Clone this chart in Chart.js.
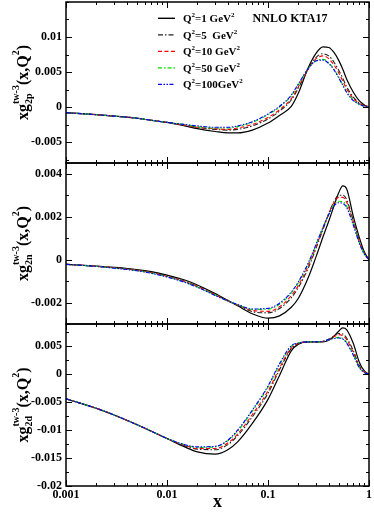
<!DOCTYPE html>
<html><head><meta charset="utf-8">
<script src="https://cdn.jsdelivr.net/npm/chart.js@4.4.1/dist/chart.umd.min.js"></script>
<style>
html,body{margin:0;padding:0;background:#fff;}
#wrap{position:relative;width:374px;height:513px;overflow:hidden;background:#fff;}
canvas{position:absolute;left:0;}
</style></head><body>
<div id="wrap">
<canvas id="c1" width="374" height="185" style="top:-10px"></canvas>
<canvas id="c2" width="374" height="185" style="top:151px"></canvas>
<canvas id="c3" width="374" height="201" style="top:312px"></canvas>
</div>
<script>
// ---------- data ----------
const xValues = [0.001,0.002,0.003,0.005,0.007,0.01,0.015,0.02,0.03,0.04,0.05,0.07,0.1,0.13,0.17,0.2,0.25,0.3,0.35,0.4,0.45,0.5,0.55,0.6,0.7,0.8,0.9,1];
const seriesNames = ['Q2=1 GeV2','Q2=5 GeV2','Q2=10 GeV2','Q2=50 GeV2','Q2=100GeV2'];
const legendLabels = ['1 GeV','5  GeV','10 GeV','50 GeV','100GeV'];

const g2p_Q1   = [-0.0008,-0.0011,-0.0013,-0.0016,-0.0019,-0.0022,-0.0027,-0.0031,-0.0035,-0.0037,-0.0037,-0.0033,-0.0023,-0.0012,0.0001,0.0020,0.0056,0.0077,0.0086,0.0085,0.0078,0.0067,0.0054,0.0040,0.0021,0.0009,0.0003,0];
const g2p_Q5   = [-0.0008,-0.0011,-0.0013,-0.0016,-0.0019,-0.0022,-0.0026,-0.0029,-0.0032,-0.0033,-0.0032,-0.0027,-0.0017,-0.0006,0.0010,0.0027,0.0054,0.0071,0.0076,0.0073,0.0064,0.0053,0.0041,0.0029,0.0014,0.0006,0.0002,0];
const g2p_Q10  = [-0.0008,-0.0011,-0.0013,-0.0016,-0.0019,-0.0022,-0.0026,-0.0029,-0.0031,-0.0032,-0.0030,-0.0025,-0.0015,-0.0004,0.0012,0.0029,0.0054,0.0069,0.0073,0.0069,0.0060,0.0049,0.0037,0.0026,0.0012,0.0005,0.0002,0];
const g2p_Q50  = [-0.0008,-0.0011,-0.0013,-0.0016,-0.0019,-0.0022,-0.0025,-0.0028,-0.0030,-0.0030,-0.0028,-0.0022,-0.0011,0.0000,0.0016,0.0032,0.0055,0.0066,0.0068,0.0063,0.0054,0.0043,0.0032,0.0022,0.0010,0.0004,0.0001,0];
const g2p_Q100 = [-0.0008,-0.0011,-0.0013,-0.0016,-0.0019,-0.0022,-0.0025,-0.0027,-0.0029,-0.0029,-0.0027,-0.0021,-0.0010,0.0001,0.0017,0.0033,0.0055,0.0066,0.0067,0.0062,0.0053,0.0042,0.0031,0.0021,0.0009,0.0004,0.0001,0];

const g2n_Q1   = [-0.00022,-0.00030,-0.00036,-0.00046,-0.00056,-0.00072,-0.00095,-0.00118,-0.00158,-0.00190,-0.00215,-0.00252,-0.00273,-0.00262,-0.00222,-0.00180,-0.00085,0.00015,0.00105,0.00180,0.00250,0.00310,0.00343,0.00330,0.00200,0.00105,0.00035,0];
const g2n_Q5   = [-0.00022,-0.00031,-0.00038,-0.00049,-0.00060,-0.00077,-0.00101,-0.00124,-0.00163,-0.00192,-0.00213,-0.00242,-0.00248,-0.00228,-0.00178,-0.00130,-0.00040,0.00055,0.00140,0.00215,0.00270,0.00300,0.00300,0.00280,0.00180,0.00090,0.00030,0];
const g2n_Q10  = [-0.00022,-0.00031,-0.00038,-0.00050,-0.00061,-0.00078,-0.00102,-0.00125,-0.00164,-0.00192,-0.00211,-0.00237,-0.00241,-0.00220,-0.00168,-0.00120,-0.00030,0.00062,0.00145,0.00215,0.00265,0.00290,0.00290,0.00268,0.00175,0.00085,0.00028,0];
const g2n_Q50  = [-0.00022,-0.00032,-0.00039,-0.00051,-0.00063,-0.00080,-0.00105,-0.00128,-0.00166,-0.00193,-0.00210,-0.00232,-0.00231,-0.00208,-0.00156,-0.00108,-0.00020,0.00070,0.00150,0.00212,0.00255,0.00272,0.00270,0.00250,0.00165,0.00080,0.00026,0];
const g2n_Q100 = [-0.00022,-0.00032,-0.00040,-0.00052,-0.00064,-0.00081,-0.00106,-0.00129,-0.00167,-0.00193,-0.00209,-0.00230,-0.00227,-0.00203,-0.00151,-0.00103,-0.00016,0.00073,0.00150,0.00210,0.00250,0.00265,0.00262,0.00243,0.00160,0.00078,0.00025,0];

const g2d_Q1   = [-0.0044,-0.0061,-0.0073,-0.0090,-0.0102,-0.0115,-0.0130,-0.0139,-0.0143,-0.0135,-0.0121,-0.0088,-0.0045,-0.0002,0.0042,0.0054,0.0058,0.0058,0.0058,0.0061,0.0068,0.0077,0.0083,0.0080,0.0055,0.0022,0.0006,0];
const g2d_Q5   = [-0.0044,-0.0061,-0.0073,-0.0090,-0.0102,-0.0115,-0.0128,-0.0134,-0.0135,-0.0126,-0.0110,-0.0076,-0.0034,0.0008,0.0046,0.0055,0.0058,0.0058,0.0059,0.0063,0.0069,0.0073,0.0072,0.0065,0.0042,0.0016,0.0004,0];
const g2d_Q10  = [-0.0044,-0.0061,-0.0073,-0.0090,-0.0102,-0.0115,-0.0127,-0.0133,-0.0133,-0.0123,-0.0107,-0.0072,-0.0030,0.0011,0.0047,0.0055,0.0058,0.0058,0.0059,0.0062,0.0067,0.0071,0.0069,0.0062,0.0039,0.0014,0.0004,0];
const g2d_Q50  = [-0.0044,-0.0061,-0.0073,-0.0090,-0.0102,-0.0115,-0.0126,-0.0131,-0.0130,-0.0119,-0.0102,-0.0066,-0.0023,0.0017,0.0050,0.0056,0.0058,0.0058,0.0059,0.0062,0.0065,0.0066,0.0064,0.0057,0.0035,0.0013,0.0003,0];
const g2d_Q100 = [-0.0044,-0.0061,-0.0073,-0.0090,-0.0102,-0.0115,-0.0126,-0.0130,-0.0129,-0.0118,-0.0100,-0.0064,-0.0021,0.0019,0.0051,0.0056,0.0058,0.0058,0.0059,0.0062,0.0064,0.0065,0.0063,0.0056,0.0034,0.0012,0.0003,0];

const xTickValues = [0.001,0.01,0.1,1];
const xTickLabels = ['0.001','0.01','0.1','1'];
const pTickValues = [-0.005,0,0.005,0.01];
const pTickLabels = ['-0.005','0','0.005','0.01'];
const nTickValues = [-0.002,0,0.002,0.004];
const nTickLabels = ['-0.002','0','0.002','0.004'];
const dTickValues = [-0.02,-0.015,-0.01,-0.005,0,0.005];
const dTickLabels = ['-0.02','-0.015','-0.01','-0.005','0','0.005'];

// ---------- styling ----------
const SERIF = '"Liberation Serif","Times New Roman",serif';
const styles = [
  {color:'#000000', dash:[], width:1.2},
  {color:'#202020', dash:[5,2,1.5,2], width:1.1},
  {color:'#ff0000', dash:[4,2.5], width:1.1},
  {color:'#00dd00', dash:[4,2,1.5,2], width:1.1},
  {color:'#0000ff', dash:[4,1.5,1.5,1.5,1.5,1.5], width:1.1}
];

function makeDatasets(arrs){
  return arrs.map((a,i)=>({
    label: seriesNames[i],
    data: xValues.map((x,j)=>({x:x, y:a[j]})),
    borderColor: styles[i].color,
    borderDash: styles[i].dash,
    borderWidth: styles[i].width,
    pointRadius: 0,
    fill:false,
    cubicInterpolationMode:'monotone'
  })).reverse();
}

function line(ctx,x1,y1,x2,y2){ctx.beginPath();ctx.moveTo(x1,y1);ctx.lineTo(x2,y2);ctx.stroke();}

function framePlugin(cfg){
  return {
    id:'frame',
    afterDatasetsDraw(chart){
      const ctx=chart.ctx, a=chart.chartArea, xs=chart.scales.x, ys=chart.scales.y;
      ctx.save();
      ctx.strokeStyle='#000'; ctx.lineWidth=1; ctx.setLineDash([]);
      for(let d=-3; d<=0; d++){
        for(let m=1;m<=9;m++){
          const v=m*Math.pow(10,d);
          if(v>1.0000001) break;
          const px=Math.round(xs.getPixelForValue(v))+0.5;
          const L=(m===1)?6:3;
          line(ctx,px,a.top,px,a.top+L);
          line(ctx,px,a.bottom,px,a.bottom-L);
        }
      }
      const k0=Math.ceil(cfg.min/cfg.step-1e-9), k1=Math.floor(cfg.max/cfg.step+1e-9);
      for(let k=k0;k<=k1;k++){
        const v=k*cfg.step;
        const major=cfg.majors.some(m=>Math.abs(m-v)<1e-9);
        const L=major?6:3;
        const py=Math.round(ys.getPixelForValue(v))+0.5;
        line(ctx,a.left,py,a.left+L,py);
        line(ctx,a.right,py,a.right-L,py);
      }
      ctx.lineWidth=1.5;
      ctx.strokeRect(a.left,a.top,a.right-a.left,a.bottom-a.top);
      // rotated y title
      const main='bold 16px '+SERIF, small='bold 10px '+SERIF;
      ctx.fillStyle='#000';
      ctx.textBaseline='alphabetic';
      ctx.textAlign='left';
      const w=(t,f)=>{ctx.font=f;return ctx.measureText(t).width;};
      const w1=w('xg',main), w2=Math.max(w(cfg.sub,small),w('tw-3',small)), w3=w('(x,Q',main), w4=w('2',small), w5=w(')',main);
      const T=w1+w2+w3+w4+w5;
      ctx.translate(28,(a.top+a.bottom)/2);
      ctx.rotate(-Math.PI/2);
      let p=-T/2;
      ctx.font=main; ctx.fillText('xg',p,0); p+=w1;
      ctx.font=small; ctx.fillText(cfg.sub,p,4); ctx.fillText('tw-3',p,-9); p+=w2;
      ctx.font=main; ctx.fillText('(x,Q',p,0); p+=w3;
      ctx.font=small; ctx.fillText('2',p,-9); p+=w4;
      ctx.font=main; ctx.fillText(')',p,0);
      ctx.restore();
    }
  };
}

const legendPlugin = {
  id:'legendDraw',
  afterDatasetsDraw(chart){
    const ctx=chart.ctx, a=chart.chartArea;
    ctx.save();
    ctx.fillStyle='#000';
    ctx.textBaseline='alphabetic';
    const big='bold 11px '+SERIF, sm='bold 7px '+SERIF;
    for(let i=0;i<5;i++){
      const y=a.top+16.3+i*16.5;
      ctx.strokeStyle=styles[i].color; ctx.lineWidth=styles[i].width+0.2; ctx.setLineDash(styles[i].dash);
      line(ctx,158,y,175,y);
      ctx.setLineDash([]);
      let x=183;
      ctx.font=big; ctx.fillText('Q',x,y+4); x+=ctx.measureText('Q').width;
      ctx.font=sm; ctx.fillText('2',x,y-1); x+=ctx.measureText('2').width;
      ctx.font=big; const t='='+legendLabels[i]; ctx.fillText(t,x,y+4); x+=ctx.measureText(t).width;
      ctx.font=sm; ctx.fillText('2',x,y-1);
    }
    ctx.font='bold 12px '+SERIF;
    ctx.textAlign='center'; ctx.textBaseline='middle';
    ctx.fillText('NNLO KTA17',290,a.top+17);
    ctx.restore();
  }
};

function yScale(min,max,vals,labels){
  return {
    type:'linear', min:min, max:max,
    grid:{display:false, drawTicks:false}, border:{display:false},
    afterBuildTicks(s){ s.ticks = vals.map(v=>({value:v})); },
    afterFit(s){ s.width=66; },
    ticks:{ color:'#000', font:{family:SERIF, size:12, weight:'bold'}, padding:4,
      callback(v){ const i=vals.findIndex(t=>Math.abs(t-v)<1e-9); return i>=0?labels[i]:''; } }
  };
}

function xScale(show){
  return {
    type:'logarithmic', min:0.001, max:1, display:show,
    grid:{display:false, drawTicks:false}, border:{display:false},
    afterFit(s){ s.height = show ? 27 : 0; },
    ticks:{ color:'#000', font:{family:SERIF, size:12, weight:'bold'}, padding:2, autoSkip:false, maxRotation:0,
      callback(v){ const i=xTickValues.findIndex(t=>Math.abs(Math.log10(t)-Math.log10(v))<1e-6); return i>=0?xTickLabels[i]:''; } },
    title:{display:show, text:'x', color:'#000', font:{family:SERIF, size:18, weight:'bold'}, padding:{top:3,bottom:0}}
  };
}

function build(id, arrs, ycfg, showX, pad, sub, extra){
  const plugins=[framePlugin({min:ycfg.min,max:ycfg.max,step:ycfg.step,majors:ycfg.vals,sub:sub})];
  if(extra) plugins.push(extra);
  return new Chart(document.getElementById(id),{
    type:'line',
    data:{datasets:makeDatasets(arrs)},
    options:{
      responsive:false, animation:false, devicePixelRatio:1,
      layout:{padding:pad},
      plugins:{legend:{display:false}, tooltip:{enabled:false}, title:{display:false}},
      scales:{ x:xScale(showX), y:yScale(ycfg.min,ycfg.max,ycfg.vals,ycfg.labels) }
    },
    plugins:plugins
  });
}

build('c1',[g2p_Q1,g2p_Q5,g2p_Q10,g2p_Q50,g2p_Q100],{min:-0.008,max:0.015,step:0.0025,vals:pTickValues,labels:pTickLabels},false,{top:12,bottom:12,left:0,right:5},'2p',legendPlugin);
build('c2',[g2n_Q1,g2n_Q5,g2n_Q10,g2n_Q50,g2n_Q100],{min:-0.003,max:0.0045,step:0.001,vals:nTickValues,labels:nTickLabels},false,{top:12,bottom:12,left:0,right:5},'2n',null);
build('c3',[g2d_Q1,g2d_Q5,g2d_Q10,g2d_Q50,g2d_Q100],{min:-0.02,max:0.009,step:0.0025,vals:dTickValues,labels:dTickLabels},true,{top:12,bottom:0,left:0,right:5},'2d',null);
</script>
</body></html>
